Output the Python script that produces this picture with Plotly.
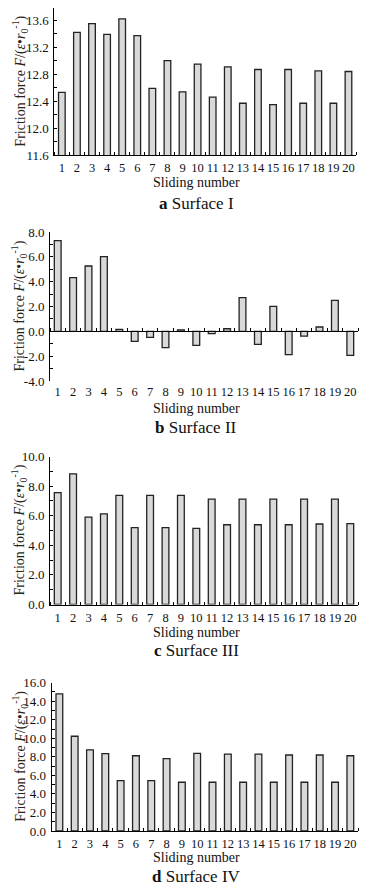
import plotly.graph_objects as go

W, H = 367, 886
BODY = 8  # default page body margin of the written html page

sliding = list(range(1, 21))
x_labels = [str(i) for i in sliding]

surface_1 = [12.53, 13.42, 13.55, 13.39, 13.62, 13.37, 12.59, 13.00, 12.54, 12.95,
             12.46, 12.91, 12.37, 12.87, 12.35, 12.87, 12.37, 12.85, 12.37, 12.84]
surface_2 = [7.30, 4.32, 5.26, 6.01, 0.16, -0.81, -0.48, -1.32, 0.11, -1.13,
             -0.19, 0.21, 2.71, -1.05, 2.01, -1.88, -0.38, 0.35, 2.50, -1.93]
surface_3 = [7.56, 8.82, 5.90, 6.13, 7.37, 5.19, 7.37, 5.19, 7.37, 5.15,
             7.12, 5.39, 7.12, 5.39, 7.12, 5.39, 7.12, 5.44, 7.12, 5.46]
surface_4 = [14.80, 10.22, 8.75, 8.35, 5.44, 8.12, 5.44, 7.80, 5.26, 8.37,
             5.26, 8.30, 5.26, 8.30, 5.26, 8.20, 5.26, 8.20, 5.26, 8.12]

y1_ticks = [11.6, 12.0, 12.4, 12.8, 13.2, 13.6]
y1_text = ["11.6", "12.0", "12.4", "12.8", "13.2", "13.6"]
y2_ticks = [-4, -2, 0, 2, 4, 6, 8]
y2_text = ["-4.0", "-2.0", "0.0", "2.0", "4.0", "6.0", "8.0"]
y3_ticks = [0, 2, 4, 6, 8, 10]
y3_text = ["0.0", "2.0", "4.0", "6.0", "8.0", "10.0"]
y4_ticks = [0, 2, 4, 6, 8, 10, 12, 14, 16]
y4_text = ["0.0", "2.0", "4.0", "6.0", "8.0", "10.0", "12.0", "14.0", "16.0"]

panel_titles = ["<b>a</b> Surface I", "<b>b</b> Surface II",
                "<b>c</b> Surface III", "<b>d</b> Surface IV"]
x_title = "Sliding number"
y_title = "Friction force <i>F</i>/(<i>ε</i>•<i>r</i><sub>0</sub><sup>-1</sup>)"

FONT = "Liberation Serif, Times New Roman, serif"
TXT = "#111111"
BAR_FILL = "#d9d9d9"
BAR_LINE = "#222222"

FW, FH = W - BODY, H - BODY


def px(x):
    return (x - BODY) / FW


def py(y):
    return 1 - (y - BODY) / FH


# panel geometry in page pixels: (left, right, top, bottom)
panels = [
    (54.3, 356.0, 8.0, 155.3),
    (50.0, 358.0, 232.0, 381.0),
    (50.0, 358.0, 456.5, 604.5),
    (51.7, 358.0, 682.7, 831.0),
]
y_ranges = [[11.6, 13.78], [-4, 8], [0, 10], [0, 16]]
minor_dt = [0.2, 1, 1, 1]
tick_sets = [(y1_ticks, y1_text), (y2_ticks, y2_text), (y3_ticks, y3_text), (y4_ticks, y4_text)]
series = [surface_1, surface_2, surface_3, surface_4]
xtitle_y = [183, 408, 632, 857]
ptitle_y = [203, 427, 650, 876]

fig = go.Figure()
layout = dict(
    template="none",
    width=FW, height=FH,
    margin=dict(l=0, r=0, t=0, b=0, autoexpand=False),
    paper_bgcolor="white", plot_bgcolor="white",
    showlegend=False, bargap=0.56,
    font=dict(family=FONT, size=13, color=TXT),
)
annotations = []

ytickfont = dict(family=FONT, size=13, color=TXT)
xtickfont = dict(family=FONT, size=12.5, color=TXT)

for i in range(4):
    n = i + 1
    sfx = "" if n == 1 else str(n)
    l, r, t, b = panels[i]
    xdom = [px(l), px(r)]
    ydom = [py(b), min(1.0, py(t))]
    ymin, ymax = y_ranges[i]
    tv, tt = tick_sets[i]

    if n == 2:
        fig.add_trace(go.Bar(x=sliding, y=series[i], xaxis="x5", yaxis="y2",
                             marker=dict(color=BAR_FILL, line=dict(color=BAR_LINE, width=1.3)),
                             hoverinfo="skip"))
        fig.add_trace(go.Scatter(x=[sliding[0]], y=[0], xaxis="x2", yaxis="y2",
                                 mode="markers", marker=dict(opacity=0), hoverinfo="skip"))
        zero_pos = ydom[0] + (0 - ymin) / (ymax - ymin) * (ydom[1] - ydom[0])
        layout["xaxis2"] = dict(
            domain=xdom, anchor="free", position=zero_pos, range=[0.5, 20.5],
            automargin=False,
            showline=True, linecolor="black", linewidth=1, showgrid=False, zeroline=False,
            showticklabels=False, ticks="",
            minor=dict(ticks="inside", tick0=0.5, dtick=1, ticklen=3, tickcolor="black", tickwidth=1),
        )
        layout["xaxis5"] = dict(
            domain=xdom, anchor="y2", overlaying="x2", range=[0.5, 20.5],
            automargin=False,
            showline=False, showgrid=False, zeroline=False, ticks="",
            tickmode="array", tickvals=sliding, ticktext=x_labels, tickfont=xtickfont,
            tickangle=0, ticklabelstandoff=1,
        )
    else:
        fig.add_trace(go.Bar(x=sliding, y=series[i], xaxis="x" + sfx, yaxis="y" + sfx,
                             marker=dict(color=BAR_FILL, line=dict(color=BAR_LINE, width=1.3)),
                             hoverinfo="skip"))
        layout["xaxis" + sfx] = dict(
            domain=xdom, anchor="y" + sfx, range=[0.5, 20.5],
            automargin=False,
            showline=True, linecolor="black", linewidth=1, showgrid=False, zeroline=False,
            ticks="", tickmode="array", tickvals=sliding, ticktext=x_labels, tickfont=xtickfont,
            tickangle=0, ticklabelstandoff=1,
            minor=dict(ticks="inside", tick0=0.5, dtick=1, ticklen=3, tickcolor="black", tickwidth=1),
        )

    layout["yaxis" + sfx] = dict(
        domain=ydom, anchor="x" + sfx, range=[ymin, ymax],
        automargin=False,
        showline=True, linecolor="black", linewidth=1, showgrid=False, zeroline=False,
        ticks="inside", ticklen=3, tickcolor="black", tickwidth=1,
        tickmode="array", tickvals=tv, ticktext=tt, tickfont=ytickfont,
        ticklabelstandoff=2,
        minor=dict(ticks="inside", tick0=ymin, dtick=minor_dt[i], ticklen=3,
                   tickcolor="black", tickwidth=1),
    )

    annotations.append(dict(text=x_title, x=px(196), y=py(xtitle_y[i]), xref="paper", yref="paper",
                            xanchor="center", yanchor="middle", showarrow=False,
                            font=dict(family=FONT, size=14, color=TXT)))
    annotations.append(dict(text=panel_titles[i], x=px(196), y=py(ptitle_y[i]), xref="paper",
                            yref="paper", xanchor="center", yanchor="middle", showarrow=False,
                            font=dict(family=FONT, size=17, color=TXT)))
    annotations.append(dict(text=y_title, x=px(8), y=(ydom[0] + ydom[1]) / 2, xref="paper",
                            yref="paper", xanchor="left", yanchor="middle", textangle=-90,
                            showarrow=False, font=dict(family=FONT, size=14, color="#2a2418")))

layout["annotations"] = annotations
fig.update_layout(**layout)
fig.write_html("out.html")
